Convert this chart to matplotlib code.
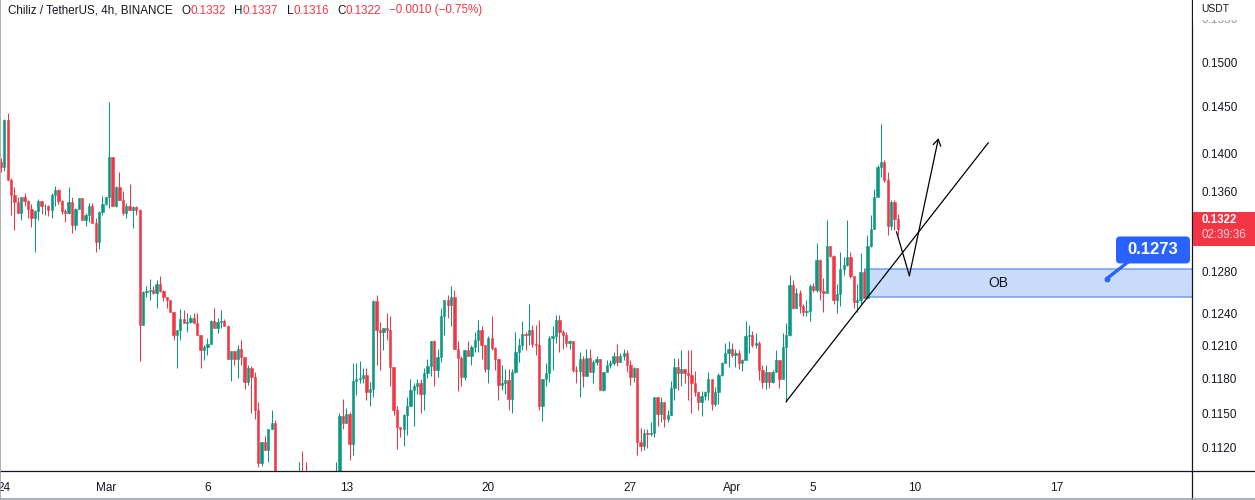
import numpy as np
import matplotlib
matplotlib.use("Agg")
import matplotlib.pyplot as plt
from matplotlib.patches import Rectangle, FancyBboxPatch
from matplotlib.lines import Line2D
from matplotlib.transforms import IdentityTransform
from matplotlib.ticker import NullLocator, FixedLocator, FixedFormatter, NullFormatter

plt.rcParams['font.family'] = ['Liberation Sans', 'DejaVu Sans']

# ---------------- data ----------------
symbol_title = "Chiliz / TetherUS, 4h, BINANCE"
first_index = -1
first_open = 0.1391
closes = [
    .1385, .1436, .1372, .1356, .1349, .1338, .1354, .1350, .1342, .1333,
    .1340, .1350, .1345, .1345, .1341, .1356, .1362, .1350, .1340, .1338,
    .1349, .1326, .1342, .1353, .1331, .1336, .1345, .1328, .1309, .1339,
    .1347, .1354, .1396, .1345, .1365, .1351, .1338, .1345, .1341, .1344,
    .1341, .1229, .1260, .1261, .1262, .1259, .1268, .1261, .1256, .1253,
    .1241, .1220, .1225, .1235, .1231, .1232, .1236, .1231, .1220, .1206,
    .1209, .1212, .1233, .1226, .1232, .1233, .1228, .1198, .1205, .1198,
    .1207, .1200, .1177, .1190, .1182, .1153, .1107, .1125, .1118, .1136,
    .1141, .1085, .1070, .1078, .1060, .1045, .1058, .1072, .1090, .1075,
    .1060, .1040, .1020, .1008, .1022, .1035, .1050, .1042, .1060, .1090,
    .1147, .1141, .1149, .1123, .1178, .1180, .1181, .1184, .1168, .1171,
    .1252, .1225, .1223, .1226, .1225, .1191, .1153, .1138, .1136, .1148,
    .1156, .1170, .1174, .1176, .1167, .1185, .1192, .1214, .1188, .1200,
    .1238, .1253, .1248, .1256, .1207, .1199, .1182, .1206, .1201, .1209,
    .1215, .1225, .1211, .1189, .1217, .1208, .1198, .1175, .1176, .1179,
    .1162, .1186, .1204, .1211, .1221, .1220, .1225, .1212, .1211, .1156,
    .1180, .1185, .1217, .1219, .1234, .1223, .1220, .1213, .1214, .1188,
    .1187, .1198, .1183, .1199, .1186, .1195, .1198, .1170, .1186, .1193,
    .1194, .1201, .1195, .1201, .1203, .1193, .1182, .1190, .1125, .1122,
    .1133, .1132, .1133, .1164, .1149, .1160, .1145, .1148, .1172, .1191,
    .1185, .1189, .1185, .1184, .1176, .1168, .1160, .1165, .1168, .1180,
    .1158, .1168, .1184, .1194, .1203, .1207, .1202, .1203, .1194, .1197,
    .1219, .1220, .1211, .1213, .1188, .1177, .1186, .1177, .1186, .1197,
    .1180, .1209, .1220, .1267, .1245, .1259, .1247, .1241, .1242, .1266,
    .1262, .1291, .1261, .1259, .1305, .1295, .1253, .1258, .1282, .1286,
    .1294, .1276, .1251, .1253, .1280, .1255, .1305, .1322, .1354, .1385,
    .1391, .1372, .1325, .1349, .1332, .1322,
]
highs = [
    .1395, .1437, .1443, .1374, .1365, .1354, .1354, .1358, .1351, .1347,
    .1341, .1352, .1350, .1347, .1346, .1358, .1366, .1363, .1351, .1342,
    .1365, .1354, .1343, .1353, .1353, .1338, .1348, .1348, .1333, .1340,
    .1355, .1354, .1455, .1396, .1366, .1380, .1360, .1348, .1368, .1345,
    .1345, .1342, .1261, .1266, .1273, .1266, .1272, .1276, .1262, .1256,
    .1253, .1241, .1225, .1244, .1243, .1240, .1239, .1240, .1240, .1220,
    .1211, .1217, .1234, .1245, .1236, .1243, .1235, .1229, .1205, .1205,
    .1211, .1215, .1200, .1193, .1192, .1186, .1160, .1125, .1130, .1136,
    .1153, .1144, .1092, .1088, .1082, .1065, .1068, .1080, .1108, .1117,
    .1108, .1068, .1045, .1028, .1030, .1045, .1060, .1058, .1075, .1108,
    .1150, .1162, .1154, .1151, .1194, .1194, .1196, .1190, .1190, .1177,
    .1253, .1257, .1232, .1226, .1240, .1238, .1191, .1156, .1138, .1149,
    .1164, .1180, .1176, .1180, .1180, .1190, .1198, .1214, .1215, .1207,
    .1245, .1253, .1257, .1266, .1262, .1214, .1201, .1206, .1214, .1211,
    .1223, .1234, .1228, .1211, .1219, .1238, .1209, .1198, .1193, .1189,
    .1189, .1189, .1223, .1217, .1233, .1223, .1249, .1229, .1229, .1234,
    .1180, .1194, .1219, .1228, .1239, .1239, .1225, .1223, .1215, .1214,
    .1192, .1204, .1201, .1207, .1207, .1197, .1201, .1198, .1186, .1197,
    .1197, .1204, .1212, .1203, .1207, .1206, .1197, .1191, .1190, .1137,
    .1136, .1136, .1142, .1164, .1164, .1164, .1160, .1153, .1178, .1199,
    .1199, .1206, .1189, .1206, .1206, .1187, .1168, .1169, .1169, .1186,
    .1180, .1173, .1185, .1195, .1213, .1214, .1213, .1207, .1206, .1198,
    .1233, .1229, .1224, .1222, .1214, .1193, .1193, .1186, .1188, .1206,
    .1197, .1222, .1231, .1277, .1272, .1264, .1262, .1249, .1253, .1268,
    .1269, .1308, .1292, .1274, .1331, .1305, .1296, .1268, .1299, .1294,
    .1331, .1299, .1276, .1268, .1298, .1282, .1316, .1336, .1363, .1388,
    .1431, .1393, .1380, .1351, .1351, .1337,
]
lows = [
    .1380, .1381, .1372, .1336, .1321, .1338, .1331, .1345, .1333, .1324,
    .1299, .1331, .1337, .1336, .1335, .1333, .1345, .1347, .1337, .1329,
    .1337, .1318, .1321, .1342, .1331, .1325, .1329, .1328, .1299, .1302,
    .1336, .1346, .1343, .1345, .1344, .1351, .1336, .1333, .1341, .1323,
    .1336, .1196, .1229, .1256, .1253, .1258, .1245, .1260, .1252, .1245,
    .1241, .1215, .1190, .1215, .1231, .1223, .1231, .1231, .1220, .1190,
    .1197, .1202, .1212, .1226, .1222, .1226, .1228, .1198, .1178, .1193,
    .1181, .1193, .1171, .1175, .1150, .1145, .1104, .1105, .1118, .1108,
    .1136, .1075, .1060, .1062, .1050, .1035, .1040, .1052, .1068, .1070,
    .1052, .1030, .1005, .0995, .1000, .1015, .1030, .1035, .1038, .1055,
    .1085, .1136, .1141, .1110, .1114, .1166, .1176, .1176, .1161, .1156,
    .1164, .1193, .1188, .1206, .1215, .1174, .1148, .1119, .1129, .1122,
    .1131, .1156, .1139, .1167, .1150, .1153, .1181, .1183, .1174, .1182,
    .1195, .1220, .1236, .1228, .1207, .1169, .1174, .1179, .1201, .1193,
    .1204, .1204, .1198, .1186, .1176, .1206, .1188, .1161, .1170, .1167,
    .1153, .1150, .1185, .1195, .1206, .1206, .1211, .1209, .1202, .1153,
    .1143, .1174, .1177, .1188, .1213, .1204, .1207, .1209, .1207, .1186,
    .1176, .1164, .1173, .1183, .1186, .1176, .1193, .1170, .1169, .1186,
    .1190, .1193, .1192, .1195, .1197, .1186, .1175, .1177, .1114, .1117,
    .1118, .1120, .1130, .1129, .1139, .1142, .1138, .1142, .1148, .1161,
    .1170, .1174, .1176, .1161, .1150, .1165, .1153, .1147, .1161, .1161,
    .1153, .1156, .1158, .1183, .1194, .1191, .1200, .1191, .1189, .1187,
    .1197, .1203, .1209, .1208, .1179, .1172, .1171, .1172, .1176, .1186,
    .1172, .1180, .1160, .1219, .1244, .1245, .1240, .1238, .1238, .1233,
    .1260, .1260, .1253, .1241, .1259, .1294, .1249, .1240, .1247, .1277,
    .1285, .1274, .1245, .1241, .1249, .1255, .1255, .1304, .1322, .1354,
    .1375, .1370, .1316, .1321, .1321, .1316,
]

date_labels = ["24", "Mar", "6", "13", "20", "27", "Apr", "5", "10", "17"]
date_bars = [0, 30, 60, 101, 143, 185, 215, 239, 269, 311]
price_ticks = [0.1120, 0.1150, 0.1180, 0.1210, 0.1240, 0.1280,
               0.1360, 0.1400, 0.1450, 0.1500, 0.1550]

ob_top, ob_bottom, ob_start_bar = 0.1282, 0.1256, 254.3
ob_text, ob_text_bar = "OB", 293.6
trend_bars, trend_prices = [231.0, 290.7], [0.1160, 0.1411]
path_bars, path_prices = [263.6, 267.4, 276.0], [0.1319, 0.1276, 0.1416]
marker_bar, marker_price = 325.7, 0.1273
countdown = "02:39:36"
quote_unit = "USDT"

# ---------------- style ----------------
GREEN = "#089981"
RED = "#f23645"
DARK = "#131722"
BLUE = "#2962ff"
W, H = 1255, 500
AX_RIGHT, AX_BOTTOM = 1192, 471

opens = np.array([first_open] + closes[:-1])
c = np.array(closes)
hi = np.array(highs)
lo = np.array(lows)
idx = np.arange(len(c)) + first_index

fig = plt.figure(figsize=(W / 100, H / 100), dpi=100)
fig.patch.set_facecolor("white")
ax = fig.add_axes([0, (H - AX_BOTTOM) / H, AX_RIGHT / W, AX_BOTTOM / H])
ax.set_facecolor("white")
ax.set_yscale("log")
ax.set_xlim(-1.27, 350.9)
ax.set_ylim(0.11006, 0.15721)
for s in ax.spines.values():
    s.set_visible(False)

up = c >= opens
cols = np.where(up, GREEN, RED)
ax.vlines(idx, lo, hi, colors=cols, linewidth=0.75, zorder=2)
body_low = np.minimum(opens, c)
body_h = np.abs(c - opens)
ax.bar(idx, body_h, bottom=body_low, width=0.68, color=cols,
       edgecolor=cols, linewidth=0.4, zorder=3)

# OB zone
ax.add_patch(Rectangle((ob_start_bar, ob_bottom), 400, ob_top - ob_bottom,
                       facecolor="#c9dbfb", edgecolor="#6f9ef0", lw=1.1, zorder=1))
ax.text(ob_text_bar, np.sqrt(ob_top * ob_bottom), ob_text, fontsize=10,
        color=DARK, ha="center", va="center", zorder=4)

# trend line and projected path
ax.plot(trend_bars, trend_prices, color="black", lw=0.9, zorder=5)
ax.plot(path_bars[:2], path_prices[:2], color="black", lw=0.9, zorder=5)
ax.annotate("", xy=(path_bars[2], path_prices[2]),
            xytext=(path_bars[1], path_prices[1]),
            arrowprops=dict(arrowstyle="->,head_length=0.45,head_width=0.28",
                            color="black", lw=0.9, shrinkA=0, shrinkB=0),
            zorder=5)

# ticks
ax.yaxis.tick_right()
ax.yaxis.set_major_locator(FixedLocator(price_ticks))
ax.yaxis.set_major_formatter(FixedFormatter([f"{p:.4f}" for p in price_ticks]))
ax.yaxis.set_minor_locator(NullLocator())
ax.yaxis.set_minor_formatter(NullFormatter())
ax.tick_params(axis="y", length=0, pad=7, labelsize=8.5, labelcolor=DARK)
ax.set_xticks(date_bars)
ax.set_xticklabels(date_labels)
ax.tick_params(axis="x", length=0, pad=8, labelsize=8.5, labelcolor=DARK)

# frame lines
fig.add_artist(Line2D([AX_RIGHT / W] * 2, [0, 1], color=DARK, lw=0.9,
                      transform=fig.transFigure))
fig.add_artist(Line2D([0, 1], [1 - AX_BOTTOM / H] * 2, color=DARK, lw=0.9,
                      transform=fig.transFigure))
fig.add_artist(Line2D([0.4 / W] * 2, [0, 1], color="#9ea1a9", lw=1.2,
                      transform=fig.transFigure))
fig.add_artist(Line2D([0, 1], [1.2 / H] * 2, color="#9ea1a9", lw=1.2,
                      transform=fig.transFigure))

# USDT header over axis (covers the top of the clipped tick label)
fig.add_artist(Rectangle((AX_RIGHT / W + 0.0008, 1 - 19.5 / H), 1, 19.5 / H,
                         facecolor="white", edgecolor="none",
                         transform=fig.transFigure, zorder=6))
fig.add_artist(Rectangle((AX_RIGHT / W + 0.0008, 1 - 26 / H), 1, 6.5 / H,
                         facecolor="white", edgecolor="none", alpha=0.55,
                         transform=fig.transFigure, zorder=6))
fig.text(1201.5 / W, 1 - 8.5 / H, quote_unit, fontsize=7.5, color=DARK,
         ha="left", va="center", zorder=7)

# last price tag
ylast = H - ax.transData.transform((0, closes[-1]))[1]
fig.add_artist(Rectangle(((AX_RIGHT + 0.5) / W, 1 - (ylast + 17.5) / H),
                         (W - AX_RIGHT) / W, 34 / H, facecolor=RED,
                         edgecolor="none", transform=fig.transFigure, zorder=6))
fig.text(1201.5 / W, 1 - (ylast - 8.5) / H, f"{closes[-1]:.4f}", fontsize=8.3,
         fontweight="bold", color="white", ha="left", va="center", zorder=7)
fig.text(1201.5 / W, 1 - (ylast + 6.5) / H, countdown, fontsize=8.3,
         color="#fcd3d8", ha="left", va="center", zorder=7)

# blue price callout
xd, yd = ax.transData.transform((marker_bar, marker_price))
bx0, bx1 = xd + 9.3, xd + 83.3
by0, by1 = yd + 15.3, yd + 42.3
ax.plot([xd, xd + 22], [yd, by0 + 2], color=BLUE, lw=2.4, transform=IdentityTransform(),
        solid_capstyle="round", zorder=8, clip_on=False)
ax.plot(marker_bar, marker_price, "o", ms=3.2, color=BLUE, zorder=8)
fig.add_artist(FancyBboxPatch((bx0, by0), bx1 - bx0, by1 - by0,
                              boxstyle="round,pad=0,rounding_size=4",
                              facecolor=BLUE, edgecolor="none",
                              transform=IdentityTransform(), zorder=8))
fig.text((bx0 + bx1) / 2 / W, (by0 + by1) / 2 / H, f"{marker_price:.4f}",
         fontsize=12, fontweight="bold", color="white", ha="center",
         va="center", zorder=9)

# header legend
chg = closes[-1] - closes[-2]
pct = chg / closes[-2] * 100
segs = [(symbol_title, DARK, 0),
        ("O", DARK, 6.5), (f"{opens[-1]:.4f}", RED, 0),
        ("H", DARK, 6.0), (f"{highs[-1]:.4f}", RED, 0),
        ("L", DARK, 6.0), (f"{lows[-1]:.4f}", RED, 0),
        ("C", DARK, 6.0), (f"{closes[-1]:.4f}", RED, 0),
        (f"{chg:+.4f} ({pct:+.2f}%)".replace("-", "\u2212"), RED, 6.0)]
t = fig.text(8 / W, 1 - 10.5 / H, segs[0][0], fontsize=8.4, color=segs[0][1],
             ha="left", va="center")
for txt, col, gap in segs[1:]:
    t = ax.annotate(txt, xy=(1, 0.5), xycoords=t, xytext=(gap, 0),
                    textcoords="offset points", fontsize=8.4, color=col,
                    ha="left", va="center", annotation_clip=False)

fig.savefig("out.png", dpi=100, facecolor="white")
